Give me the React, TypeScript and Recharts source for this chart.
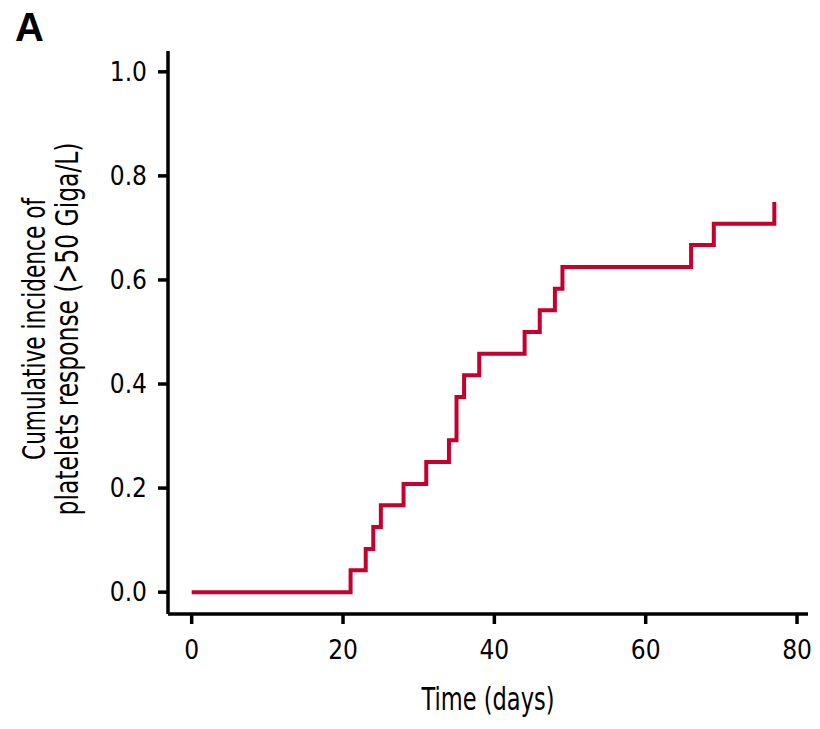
import { LineChart, Line, XAxis, YAxis } from "recharts";

const days = [0, 21, 23, 24, 25, 28, 31, 34, 35, 36, 38, 44, 46, 48, 49, 66, 69, 77];
const incidence = [
  0, 0.042, 0.083, 0.125, 0.167, 0.208, 0.25, 0.292, 0.375, 0.417, 0.458, 0.5, 0.542, 0.583, 0.625,
  0.667, 0.708, 0.75,
];
const xTicks = [0, 20, 40, 60, 80];
const yTicks = [0, 0.2, 0.4, 0.6, 0.8, 1.0];

const panelLetter = "A";
const xTitle = "Time (days)";
const yTitleLines = ["Cumulative incidence of", "platelets response (>50 Giga/L)"];

const data = days.map((d, i) => ({ day: d, cif: incidence[i] }));

const tickFont = '"DejaVu Sans Condensed", "DejaVu Sans", sans-serif';
const titleFont = '"DejaVu Sans Condensed", "DejaVu Sans", sans-serif';

// the original uses a narrow face, squeeze the titles to the same length
const yTitleLengths = [262, 373];

function XTitle() {
  return (
    <text
      x={488}
      y={710}
      textAnchor="middle"
      fontSize={32}
      fontFamily={titleFont}
      fill="#000"
      textLength={133}
      lengthAdjust="spacingAndGlyphs"
    >
      {xTitle}
    </text>
  );
}

function YTitle() {
  return (
    <g>
      {yTitleLines.map((t, i) => {
        const x = 45 + i * 33;
        return (
          <text
            key={t}
            x={x}
            y={329}
            transform={`rotate(-90 ${x} 329)`}
            textAnchor="middle"
            fontSize={32}
            fontFamily={titleFont}
            fill="#000"
            textLength={yTitleLengths[i]}
            lengthAdjust="spacingAndGlyphs"
          >
            {t}
          </text>
        );
      })}
    </g>
  );
}

export default function App() {
  return (
    <div style={{ position: "absolute", left: 0, top: 0, width: 820, height: 729, background: "#fff" }}>
      <div
        style={{
          position: "absolute",
          left: 15,
          top: 4,
          fontFamily: '"Liberation Sans", Arial, sans-serif',
          fontWeight: 700,
          fontSize: 40,
          lineHeight: "46px",
        }}
      >
        {panelLetter}
      </div>
      <LineChart width={820} height={729} data={data} margin={{ top: 51, right: 12, left: 108, bottom: 55 }}>
        <XAxis
          dataKey="day"
          type="number"
          domain={[-3.13, 81.45]}
          allowDataOverflow
          ticks={xTicks}
          height={60}
          tickSize={10}
          tickMargin={17}
          stroke="#000"
          strokeWidth={3.5}
          tick={{ fill: "#000", fontSize: 26, fontFamily: tickFont }}
          label={<XTitle />}
        />
        <YAxis
          type="number"
          domain={[-0.042, 1.04]}
          allowDataOverflow
          ticks={yTicks}
          width={60}
          tickSize={10}
          tickMargin={11}
          stroke="#000"
          strokeWidth={3.5}
          tickFormatter={(v: number) => v.toFixed(1)}
          tick={{ fill: "#000", fontSize: 26, fontFamily: tickFont }}
          label={<YTitle />}
        />
        <Line
          dataKey="cif"
          type="stepAfter"
          stroke="#c4002f"
          strokeWidth={4}
          dot={false}
          activeDot={false}
          isAnimationActive={false}
        />
      </LineChart>
    </div>
  );
}
